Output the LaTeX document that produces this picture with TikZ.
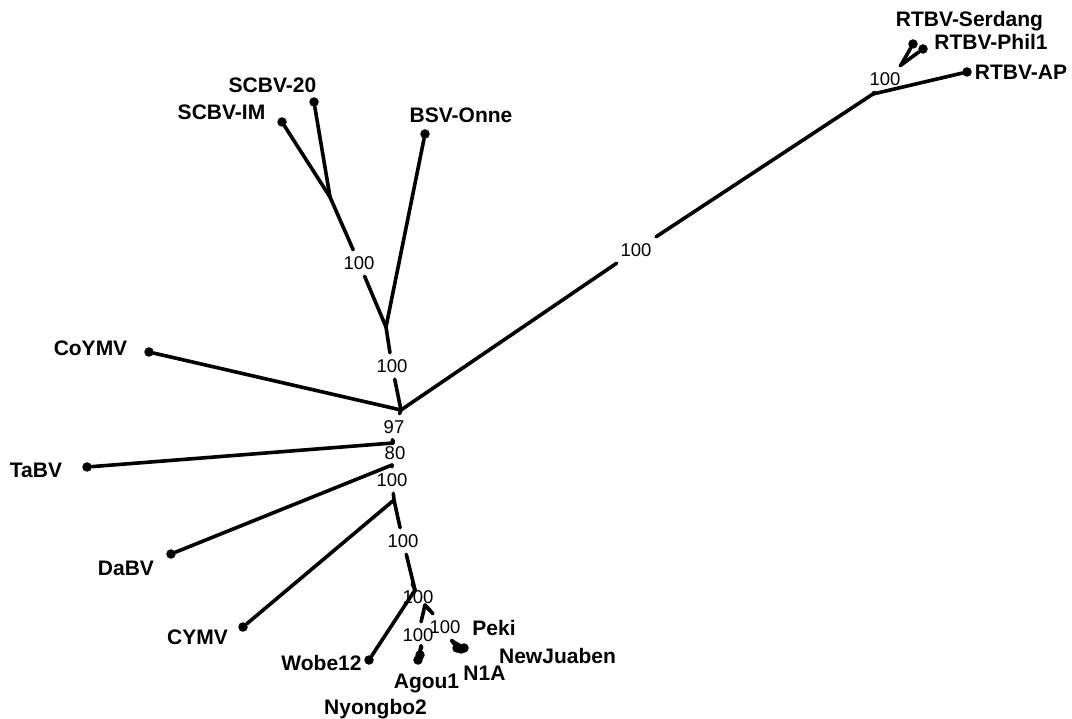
\documentclass[tikz,border=0pt]{standalone}
\usepackage{fontspec}
\setmainfont{Liberation Sans}
\usetikzlibrary{positioning}

\begin{document}
\begin{tikzpicture}[
  x=1pt, y=-1pt,
  branch/.style={line width=3.6pt, line cap=round},
  tip/.style={circle, fill=black, inner sep=0pt, minimum size=9.5pt},
  taxon/.style={anchor=base, inner sep=0pt, font=\fontsize{21}{24}\selectfont\bfseries},
  boot/.style={inner xsep=8pt, inner ysep=6.5pt, font=\fontsize{18.5}{22}\selectfont}
]
\useasboundingbox (0,0) rectangle (1072,719);

% Internal nodes
\coordinate (c1)  at (401,410);
\coordinate (n2)  at (386,327);
\coordinate (n3)  at (330,197);
\coordinate (n4)  at (873,94);
\coordinate (n5)  at (901,65);
\coordinate (n6)  at (393,443);
\coordinate (n7)  at (392,465);
\coordinate (n8)  at (394,500);
\coordinate (n9)  at (415,590);
\coordinate (n10) at (425,605);
\coordinate (n11) at (421,646);
\coordinate (n12) at (452,641);

% Tips
\node[tip] (coymv)   at (149,352) {};
\node[tip] (scbvim)  at (282,122) {};
\node[tip] (scbv20)  at (314,102) {};
\node[tip] (bsv)     at (425,134) {};
\node[tip] (serdang) at (913,44)  {};
\node[tip] (phil)    at (923,49)  {};
\node[tip] (rtbvap)  at (967,72)  {};
\node[tip] (tabv)    at (87,467)  {};
\node[tip] (dabv)    at (171,554) {};
\node[tip] (cymv)    at (243,627) {};
\node[tip] (wobe)    at (369,660) {};
\node[tip] (agou)    at (418,660) {};
\node[tip] (nyongbo) at (420,655) {};
\node[tip] (peki)    at (457,648) {};
\node[tip] (nia)     at (461,649) {};
\node[tip] (juaben)  at (464,648) {};

% Taxon names
\node[taxon] (coymv-t)   at (90.5,356)  {CoYMV};
\node[taxon] (scbvim-t)  at (221.5,120) {SCBV-IM};
\node[taxon] (scbv20-t)  at (272.5,93)  {SCBV-20};
\node[taxon] (bsv-t)     at (461,123)   {BSV-Onne};
\node[taxon] (serdang-t) at (969.5,27)  {RTBV-Serdang};
\node[taxon] (phil-t)    at (991,50)    {RTBV-Phil1};
\node[taxon] (rtbvap-t)  at (1021,80)   {RTBV-AP};
\node[taxon] (tabv-t)    at (36,478)    {TaBV};
\node[taxon] (dabv-t)    at (126,575)   {DaBV};
\node[taxon] (cymv-t)    at (197.5,644) {CYMV};
\node[taxon] (wobe-t)    at (321.5,670) {Wobe12};
\node[taxon] (nyongbo-t) at (375.5,714) {Nyongbo2};
\node[taxon] (agou-t)    at (426.5,688) {Agou1};
\node[taxon] (nia-t)     at (484.5,680) {N1A};
\node[taxon] (juaben-t)  at (557.5,663) {NewJuaben};
\node[taxon] (peki-t)    at (494,635)   {Peki};

% Bootstrap values
\node[boot] (b1)  at (392,366) {100};
\node[boot] (b2)  at (359,263) {100};
\node[boot] (b3)  at (636,250) {100};
\node[boot] (b4)  at (885,79)  {100};
\node[boot] (b5)  at (394,427) {97};
\node[boot] (b6)  at (395,453) {80};
\node[boot] (b7)  at (392,480) {100};
\node[boot] (b8)  at (403,541) {100};
\node[boot] (b9)  at (418,597) {100};
\node[boot] (b10) at (418,635) {100};
\node[boot] (b11) at (445,627) {100};

% Branches
\draw[branch] (c1) -- (coymv);
\draw[branch] (c1) -- (b1) -- (n2);
\draw[branch] (n2) -- (bsv);
\draw[branch] (n2) -- (b2) -- (n3);
\draw[branch] (n3) -- (scbvim);
\draw[branch] (n3) -- (scbv20);
\draw[branch] (c1) -- (b3) -- (n4);
\draw[branch] (n4) -- (rtbvap);
\draw[branch] (n4) -- (b4) -- (n5);
\draw[branch] (n5) -- (serdang);
\draw[branch] (n5) -- (phil);
\draw[branch] (c1) -- (b5) -- (n6);
\draw[branch] (n6) -- (tabv);
\draw[branch] (n6) -- (b6) -- (n7);
\draw[branch] (n7) -- (dabv);
\draw[branch] (n7) -- (b7) -- (n8);
\draw[branch] (n8) -- (cymv);
\draw[branch] (n8) -- (b8) -- (n9);
\draw[branch] (n9) -- (wobe);
\draw[branch] (n9) -- (b9) -- (n10);
\draw[branch] (n10) -- (b10) -- (n11);
\draw[branch] (n11) -- (agou);
\draw[branch] (n11) -- (nyongbo);
\draw[branch] (n10) -- (b11) -- (n12);
\draw[branch] (n12) -- (peki);
\draw[branch] (n12) -- (nia);
\draw[branch] (n12) -- (juaben);
\end{tikzpicture}
\end{document}
